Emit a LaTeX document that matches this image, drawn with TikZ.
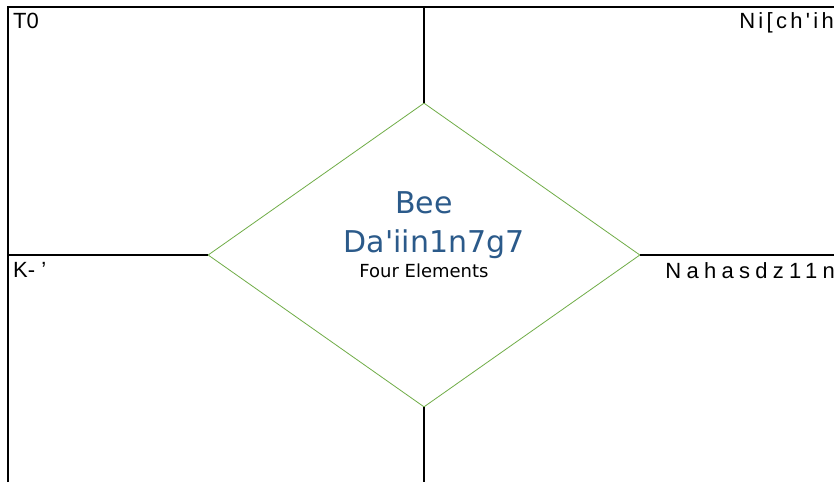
\documentclass[tikz,border=0pt]{standalone}
\usepackage{fontspec}
\setmainfont{Liberation Sans}
\newfontfamily\centro{DejaVu Sans}
\newfontfamily\largo[LetterSpace=24]{Liberation Sans}
\newfontfamily\medio[LetterSpace=15]{Liberation Sans}
\usetikzlibrary{shapes.geometric}
\definecolor{azul}{HTML}{2B5A8A}
\definecolor{verde}{HTML}{70AD47}

\begin{document}
\begin{tikzpicture}[
  x=1pt,y=-1pt,
  linha/.style={draw,line width=1.6pt,black},
  losango/.style={diamond,draw=verde,line width=0.8pt,inner sep=0pt,
                  minimum width=432pt,minimum height=304pt},
  canto/.style={font=\fontsize{22}{24}\selectfont,inner sep=0pt},
  titulo/.style={font=\centro\fontsize{30}{32}\selectfont,text=azul,inner sep=0pt},
  sub/.style={font=\centro\fontsize{18}{20}\selectfont,inner sep=0pt}
]
  \useasboundingbox[fill=white] (0,0) rectangle (834,482);
  % frame and cross
  \coordinate (nw) at (8,7);
  \coordinate (ne) at (834,7);
  \coordinate (sw) at (8,482);
  \coordinate (topo) at (424,7);
  \coordinate (base) at (424,482);
  \coordinate (esq) at (8,255);
  \coordinate (dir) at (834,255);
  \node[losango] (elem) at (424,255) {};
  \draw[linha] (sw)--(nw)--(ne);
  \draw[linha] (topo)--(elem.north);
  \draw[linha] (elem.south)--(base);
  \draw[linha] (esq)--(elem.west);
  \draw[linha] (elem.east)--(dir);

  % corner labels
  \node[canto,anchor=base west] (leste) at (13,28) {T0};
  \node[canto,font=\medio\fontsize{22}{24}\selectfont,anchor=base east] (sul) at (834,28) {Ni[ch'ih};
  \node[canto,anchor=base west] (oeste) at (13,277) {K- '};
  \node[canto,font=\largo\fontsize{22}{24}\selectfont,anchor=base east] (norte) at (835,278) {Nahasdz11n};

  % center text
  \node[titulo,anchor=base] (bee) at (424,213) {Bee};
  \node[titulo,anchor=base] (daiin) at (434,252) {Da'iin1n7g7};
  \node[sub,anchor=base] (quatro) at (424,277) {Four Elements};
\end{tikzpicture}
\end{document}
